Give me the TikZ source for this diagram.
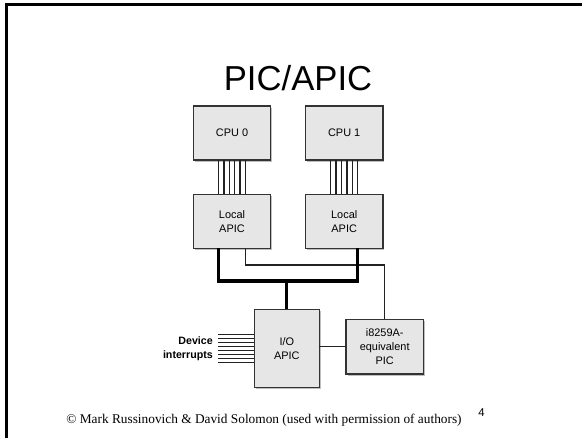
\documentclass[tikz,border=0pt]{standalone}
\usepackage{fontspec}
\setmainfont{Liberation Serif}
\setsansfont{Liberation Sans}
\usetikzlibrary{shadows}

\tikzset{every picture/.style={line width=0.75pt}}
\tikzset{
  chip/.style={draw={rgb, 255:red, 51; green, 51; blue, 51}, fill={rgb, 255:red, 230; green, 230; blue, 230}, line width=1.1pt, inner sep=0pt, outer sep=0pt, align=center, font=\sffamily\fontsize{8.2}{10.6}\selectfont, drop shadow={shadow xshift=1.2pt, shadow yshift=-1.2pt, fill=black!25, opacity=1}},
  wire/.style={draw={rgb, 255:red, 34; green, 34; blue, 34}, line width=1pt},
  bus/.style={draw=black, line width=2.3pt},
}

\begin{document}
\begin{tikzpicture}[x=0.75pt,y=0.75pt,yscale=-1,xscale=1]
\useasboundingbox (0,0) rectangle (582,438);

%Shape: Frame
\draw [line width=2pt]  (582,4.5) -- (6.5,4.5) -- (6.5,438) ;

% Text Node
\node [anchor=base, font=\sffamily\fontsize{26}{30}\selectfont] (title) at (298,90.7) {PIC/APIC};

%Shape: Rectangle
\node [chip, minimum width=58pt, minimum height=40.5pt] (cpu0) at (232,133) {CPU 0};
%Shape: Rectangle
\node [chip, minimum width=58pt, minimum height=40.5pt] (cpu1) at (344.2,133) {CPU 1};
%Shape: Rectangle
\node [chip, minimum width=58pt, minimum height=40.5pt] (lapic0) at (232,221.3) {Local\\APIC};
%Shape: Rectangle
\node [chip, minimum width=58pt, minimum height=40.5pt] (lapic1) at (344.2,221.3) {Local\\APIC};
%Shape: Rectangle
\node [chip, minimum width=48.7pt, minimum height=58.5pt] (ioapic) at (286.8,348.4) {I/O\\APIC};
%Shape: Rectangle
\node [chip, minimum width=58pt, minimum height=41pt] (pic) at (384.7,346.7) {i8259A-\\equivalent\\PIC};

% Text Node
\node [anchor=east, align=right, inner sep=0pt, font=\sffamily\bfseries\fontsize{8}{10}\selectfont] (devirq) at (213.3,348.9) {Device\\interrupts};

\coordinate (bus) at (286.8,281) ;
\coordinate (tap) at (384.7,265) ;

% Connection
\foreach \dx in {-10.2,-6.1,-2,2,6.1,10.2} {
  \draw [wire] ([xshift=\dx pt]cpu0.south) -- ([xshift=\dx pt]lapic0.north) ;
  \draw [wire] ([xshift=\dx pt]cpu1.south) -- ([xshift=\dx pt]lapic1.north) ;
}
% Connection
\draw [wire] ([xshift=10pt]lapic0.south) |- (tap) -- (pic.north) ;
% Connection
\draw [bus] ([xshift=-10.2pt]lapic0.south) |- (bus) -| ([xshift=10.2pt]lapic1.south) ;
\draw [bus] (bus) -- (ioapic.north) ;
% Connection
\draw [wire] (ioapic.east |- pic.west) -- (pic.west) ;
% Connection
\foreach \k in {0,...,7} {
  \draw [wire] ([xshift=-27pt, yshift=10.5pt-\k*3pt]ioapic.west) -- ([yshift=10.5pt-\k*3pt]ioapic.west) ;
}

% Text Node
\node [anchor=base, inner sep=0pt, font=\fontsize{10}{12}\selectfont] (credit) at (264,423.3) {\textcopyright{} Mark Russinovich \& David Solomon (used with permission of authors)};
% Text Node
\node [anchor=base, inner sep=0pt, font=\sffamily\fontsize{8.5}{10}\selectfont] (page) at (481.6,416.7) {4};

\end{tikzpicture}
\end{document}
